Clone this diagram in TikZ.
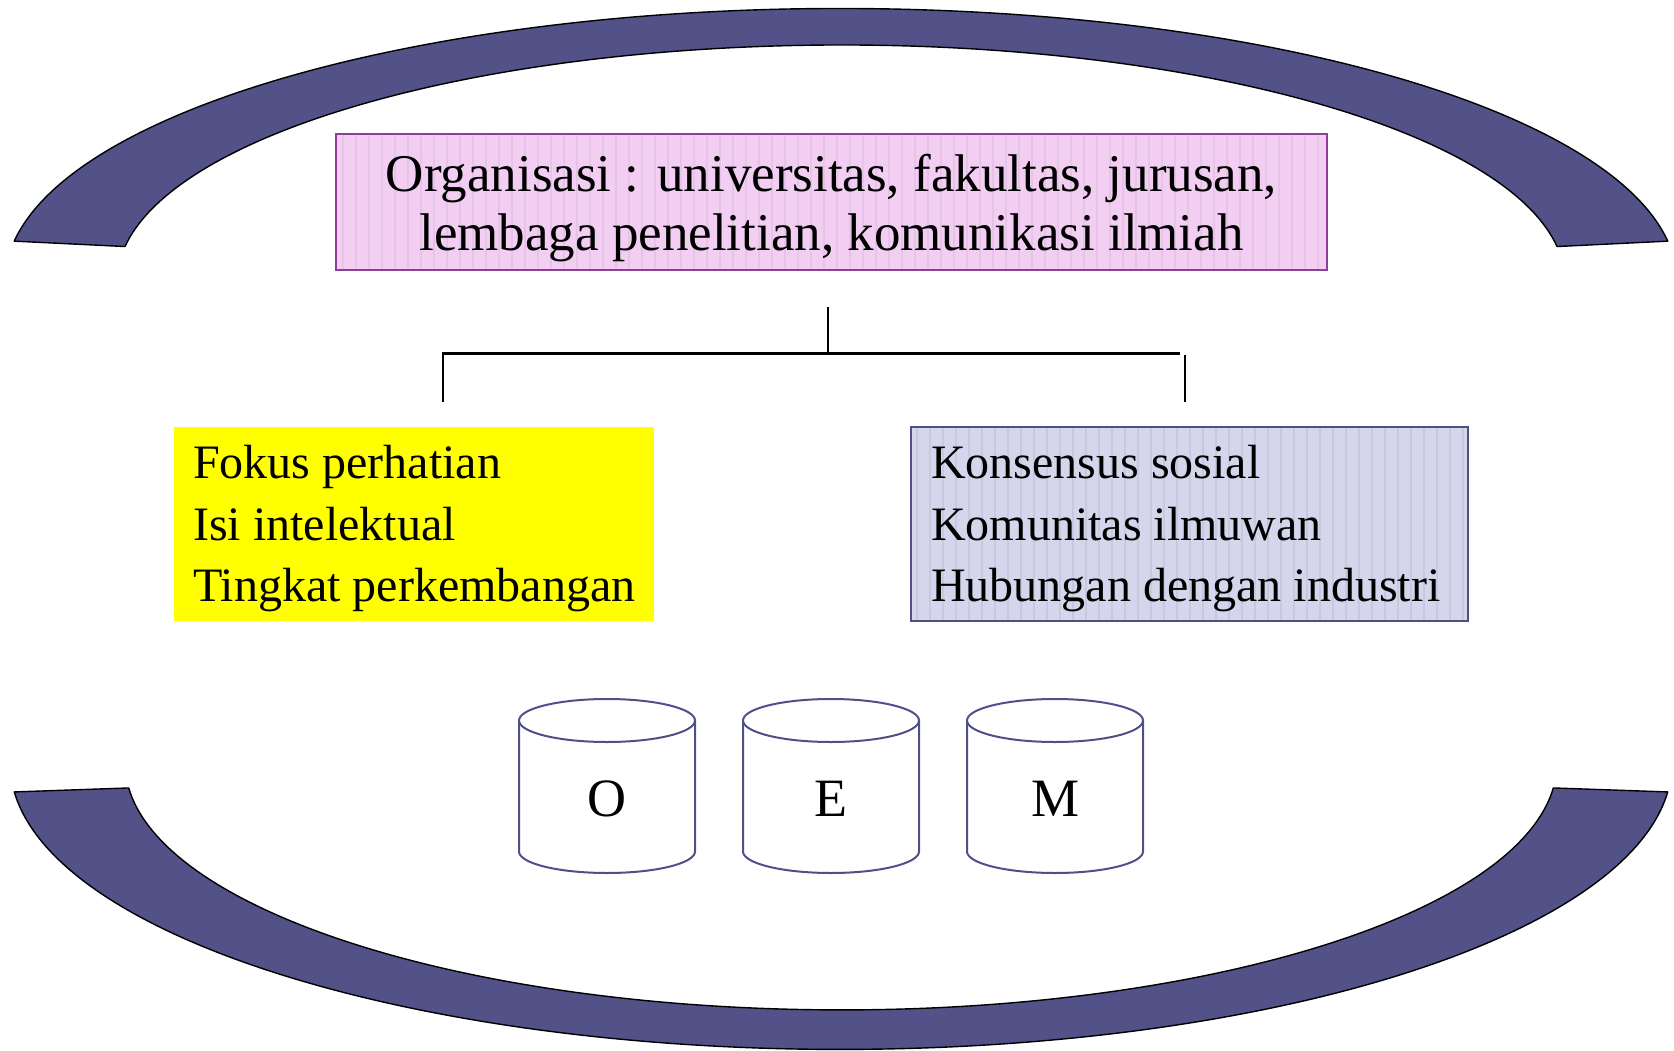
\documentclass[tikz,border=0pt]{standalone}
\usepackage{fontspec}
\setmainfont{Liberation Serif}
\definecolor{bandblue}{HTML}{525288}
\definecolor{pinkfill}{HTML}{F2CFF2}
\definecolor{pinkstripe}{HTML}{E6C4E8}
\definecolor{pinkedge}{HTML}{8E3E96}
\definecolor{lavfill}{HTML}{D5D5EB}
\definecolor{lavstripe}{HTML}{C8C8E0}
\definecolor{lavedge}{HTML}{4F4F87}
\definecolor{cyledge}{HTML}{4F4F8A}
\definecolor{boxyellow}{HTML}{FFFF00}
\begin{document}
\begin{tikzpicture}[x=1pt,y=1pt,
  band/.style={fill=bandblue, draw=black, line width=1.4pt, line join=round},
  bigtext/.style={font=\fontsize{53}{59}\selectfont, align=center, inner sep=0pt},
  listtext/.style={font=\fontsize{48}{61.5}\selectfont, align=left, inner sep=0pt, anchor=west},
  cyltext/.style={font=\fontsize{54}{60}\selectfont, inner sep=0pt},
  cyl/.style={draw=cyledge, fill=white, line width=2pt},
  tree/.style={draw=black, line width=2pt},
  treebar/.style={draw=black, line width=3pt}]
\useasboundingbox (0,0) rectangle (1674,-1051);

% upper band (part of an elliptic ring)
\draw[band] ([shift={(171.5:836 and 273)}]841,-281.5)
  arc[start angle=171.5, end angle=8.5, x radius=836, y radius=273]
  -- ([shift={(8.5:724 and 236.5)}]841,-281.5)
  arc[start angle=8.5, end angle=171.5, x radius=724, y radius=236.5]
  -- cycle;

% lower band
\draw[band] ([shift={(185.8:831 and 286.4)}]841,-763)
  arc[start angle=185.8, end angle=354.2, x radius=831, y radius=286.4]
  -- ([shift={(354.2:716 and 246.9)}]841,-763)
  arc[start angle=354.2, end angle=185.8, x radius=716, y radius=246.9]
  -- cycle;

% title box with striped fill
\fill[pinkfill] (336,-134.5) rectangle (1327,-270);
\begin{scope}
  \clip (336,-134.5) rectangle (1327,-270);
  \foreach \sx in {343,356,...,1327}
    \draw[pinkstripe, line width=1.4pt] (\sx,-134.5) -- (\sx,-270);
\end{scope}
\node[draw=pinkedge, line width=2pt, minimum width=991pt, minimum height=135.5pt,
      inner sep=0pt] (org) at (831.5,-202.25) {};
\node[bigtext] (orgtext) at (831.5,-208.5)
  {Organisasi : universitas, fakultas, jurusan,\\lembaga penelitian, komunikasi ilmiah};

% branching connector
\coordinate (stemtop) at (828,-307);
\coordinate (stembot) at (828,-353);
\coordinate (barL) at (443,-353);
\coordinate (barR) at (1180,-353);
\coordinate (legLtop) at (443,-352);
\coordinate (legLbot) at (443,-402);
\coordinate (legRtop) at (1185,-355);
\coordinate (legRbot) at (1185,-402);
\draw[tree] (stemtop) -- (stembot);
\draw[treebar] (barL) -- (barR);
\draw[tree] (legLtop) -- (legLbot);
\draw[tree] (legRtop) -- (legRbot);

% left list box
\node[fill=boxyellow, minimum width=480pt, minimum height=194pt, inner sep=0pt]
  (focus) at (414,-524) {};
\node[listtext] (focustext) at (193,-529)
  {Fokus perhatian\\Isi intelektual\\Tingkat perkembangan};

% right list box with striped fill
\fill[lavfill] (911,-427) rectangle (1468,-621);
\begin{scope}
  \clip (911,-427) rectangle (1468,-621);
  \foreach \sx in {917,930,...,1468}
    \draw[lavstripe, line width=1.4pt] (\sx,-427) -- (\sx,-621);
\end{scope}
\node[draw=lavedge, line width=2pt, minimum width=557pt, minimum height=194pt,
      inner sep=0pt] (social) at (1189.5,-524) {};
\node[listtext] (socialtext) at (931,-529)
  {Konsensus sosial\\Komunitas ilmuwan\\Hubungan dengan industri};

% three cylinders
\foreach \cx/\lt/\nm in {607/O/cylO, 831/E/cylE, 1055/M/cylM} {
  \draw[cyl] (\cx-88,-720.5) -- (\cx-88,-851.5)
    arc[start angle=180, end angle=360, x radius=88, y radius=21.5]
    -- (\cx+88,-720.5);
  \draw[cyl] (\cx,-720.5) ellipse[x radius=88, y radius=21.5];
  \node[cyltext] (\nm) at (\cx,-799) {\lt};
}
\end{tikzpicture}
\end{document}
